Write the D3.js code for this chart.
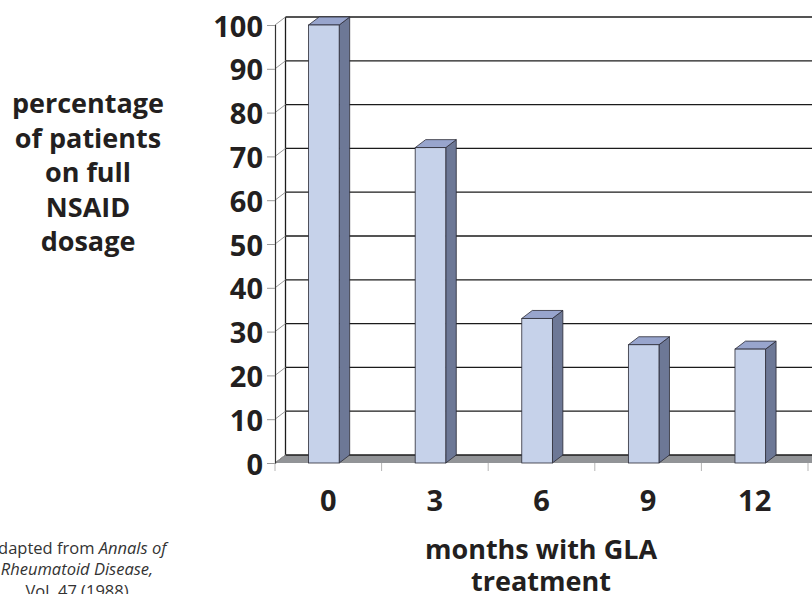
<!DOCTYPE html>
<html>
<head>
<meta charset="utf-8">
<script src="https://cdn.jsdelivr.net/npm/d3@7/dist/d3.min.js"></script>
<style>
  html, body { margin: 0; padding: 0; background: #fff; }
  svg { display: block; font-family: "Open Sans", "DejaVu Sans", sans-serif; }
</style>
</head>
<body>
<svg id="chart" width="812" height="594"></svg>
<script>
// Months of GLA treatment and share of patients still on full NSAID dosage
const months = ["0", "3", "6", "9", "12"];
const pctFullDosage = [100, 72, 33, 27, 26];
const yTicks = [0, 10, 20, 30, 40, 50, 60, 70, 80, 90, 100];
const yTitleLines = ["percentage", "of patients", "on full", "NSAID", "dosage"];
const xTitleLines = ["months with GLA", "treatment"];

const svg = d3.select("#chart");

// front plane scales; the back wall is offset by a fixed depth vector
const x = d3.scaleBand().domain(months).range([275, 808]).paddingInner(0).paddingOuter(0);
const y = d3.scaleLinear().domain([0, 100]).range([463, 25]);
const dx = 10.5, dy = -8;
const bw = x.bandwidth();

// floor
const x0 = x.range()[0], x1 = x.range()[1];
svg.append("polygon")
  .attr("points", [[x0, y(0)], [x1 + 4, y(0)], [x1 + 4 + dx, y(0) + dy], [x0 + dx, y(0) + dy]].map(p => p.join(",")).join(" "))
  .attr("fill", "#929497");

// back wall gridlines
svg.append("g").selectAll("line").data(yTicks).join("line")
  .attr("x1", x0 + dx).attr("x2", 830)
  .attr("y1", d => y(d) + dy).attr("y2", d => y(d) + dy)
  .attr("stroke", "#1b1b1b").attr("stroke-width", 1.3);

// back wall left edge
svg.append("line")
  .attr("x1", x0 + dx).attr("x2", x0 + dx)
  .attr("y1", y(100) + dy).attr("y2", y(0) + dy)
  .attr("stroke", "#1b1b1b").attr("stroke-width", 1.3);

// floor left edge
svg.append("line")
  .attr("x1", x0).attr("y1", y(0))
  .attr("x2", x0 + dx).attr("y2", y(0) + dy)
  .attr("stroke", "#555").attr("stroke-width", 1);

// side wall gridline connectors
svg.append("g").selectAll("line").data(yTicks).join("line")
  .attr("x1", x0).attr("y1", d => y(d))
  .attr("x2", x0 + dx).attr("y2", d => y(d) + dy)
  .attr("stroke", "#9a9a9a").attr("stroke-width", 1);

// y axis with labels
const yAxis = svg.append("g")
  .attr("transform", `translate(${x0},0)`)
  .call(d3.axisLeft(y).tickValues(yTicks).tickSize(8).tickPadding(4).tickFormat(d3.format("d")));
yAxis.select(".domain").attr("stroke", "#333").attr("stroke-width", 1.2);
yAxis.selectAll(".tick line").attr("stroke", "#9a9a9a");
yAxis.selectAll(".tick text")
  .attr("font-family", "'Open Sans', sans-serif")
  .attr("font-weight", 700).attr("font-size", 29).attr("fill", "#231f20")
  .attr("dy", "0.38em");

// category boundary ticks below the floor
const bounds = months.map(m => x(m)).concat([x1]);
svg.append("g").selectAll("line").data(bounds).join("line")
  .attr("x1", d => d).attr("x2", d => d)
  .attr("y1", y(0)).attr("y2", y(0) + 8)
  .attr("stroke", "#b5b5b5").attr("stroke-width", 1);

// bars as extruded boxes
const barOff = bw * 0.315, barW = bw * 0.287;
const bars = svg.append("g").selectAll("g").data(months.map((m, i) => ({ m, v: pctFullDosage[i] }))).join("g");
const pts = a => a.map(p => p.join(",")).join(" ");
bars.append("polygon") // side
  .attr("points", d => {
    const l = x(d.m) + barOff + barW;
    return pts([[l, y(d.v)], [l + dx, y(d.v) + dy], [l + dx, y(0) + dy], [l, y(0)]]);
  })
  .attr("fill", "#6d7896").attr("stroke", "#2a2a35").attr("stroke-width", 0.8);
bars.append("polygon") // top
  .attr("points", d => {
    const l = x(d.m) + barOff;
    return pts([[l, y(d.v)], [l + barW, y(d.v)], [l + barW + dx, y(d.v) + dy], [l + dx, y(d.v) + dy]]);
  })
  .attr("fill", "#98a5cd").attr("stroke", "#2a2a35").attr("stroke-width", 0.8);
bars.append("rect") // front
  .attr("x", d => x(d.m) + barOff)
  .attr("y", d => y(d.v))
  .attr("width", barW)
  .attr("height", d => y(0) - y(d.v))
  .attr("fill", "#c6d2ea").attr("stroke", "#2a2a35").attr("stroke-width", 0.8);

// x axis labels
const xAxis = svg.append("g")
  .attr("transform", `translate(0,${y(0)})`)
  .call(d3.axisBottom(x).tickSize(0).tickPadding(27));
xAxis.select(".domain").remove();
xAxis.selectAll(".tick text")
  .attr("font-family", "'Open Sans', sans-serif")
  .attr("font-weight", 700).attr("font-size", 29).attr("fill", "#231f20");

// axis titles
svg.append("text")
  .attr("text-anchor", "middle")
  .attr("font-weight", 700).attr("font-size", 27).attr("fill", "#231f20")
  .selectAll("tspan").data(yTitleLines).join("tspan")
  .attr("x", 88).attr("y", (d, i) => 113 + i * 34.5)
  .text(d => d);

svg.append("text")
  .attr("text-anchor", "middle")
  .attr("font-weight", 700).attr("font-size", 27).attr("fill", "#231f20")
  .selectAll("tspan").data(xTitleLines).join("tspan")
  .attr("x", 541).attr("y", (d, i) => 559 + i * 32)
  .text(d => d);

// source note
const note = svg.append("text")
  .attr("text-anchor", "middle")
  .attr("font-size", 16.5).attr("fill", "#333");
const l1 = note.append("tspan").attr("x", 77).attr("y", 554);
l1.append("tspan").text("Adapted from ");
l1.append("tspan").attr("font-style", "italic").text("Annals of");
note.append("tspan").attr("x", 77).attr("y", 575).attr("font-style", "italic").text("Rheumatoid Disease,");
note.append("tspan").attr("x", 77).attr("y", 597).text("Vol. 47 (1988)");
</script>
</body>
</html>
